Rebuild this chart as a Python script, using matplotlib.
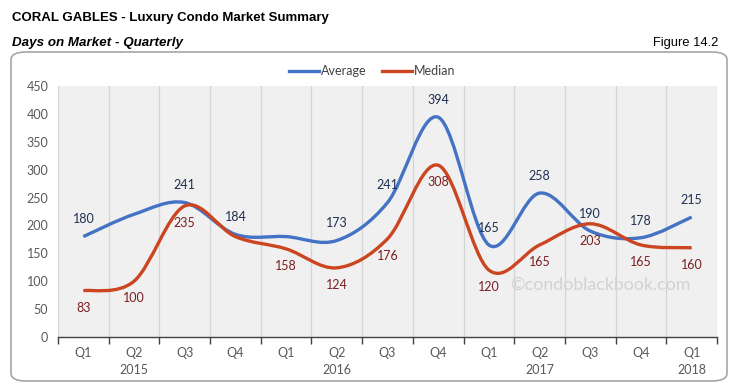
import numpy as np
import matplotlib
matplotlib.use("Agg")
import matplotlib.pyplot as plt
from matplotlib.path import Path
from matplotlib.patches import PathPatch, FancyBboxPatch
from matplotlib.lines import Line2D

# data
quarters = ["Q1", "Q2", "Q3", "Q4", "Q1", "Q2", "Q3", "Q4", "Q1", "Q2", "Q3", "Q4", "Q1"]
years = ["2015", "2016", "2017", "2018"]
year_pos = [1, 5, 9, 12]
average = [180, 220, 241, 184, 180, 173, 241, 394, 165, 258, 190, 178, 215]
median = [83, 100, 235, 180, 158, 124, 176, 308, 120, 165, 203, 165, 160]
avg_labeled = [True, False, True, True, False, True, True, True, True, True, True, True, True]
med_labeled = [True, True, True, False, True, True, True, True, True, True, True, True, True]

blue = "#4472C4"
red = "#CB4520"
font = "Lato"
fs = 9


def smooth_path(xs, ys):
    # Catmull-Rom style bezier, like Excel's smoothed line
    pts = np.column_stack([xs, ys]).astype(float)
    n = len(pts)
    verts = [pts[0]]
    codes = [Path.MOVETO]
    for i in range(n - 1):
        p0 = pts[max(i - 1, 0)]
        p1 = pts[i]
        p2 = pts[i + 1]
        p3 = pts[min(i + 2, n - 1)]
        c1 = p1 + (p2 - p0) / 6.0
        c2 = p2 - (p3 - p1) / 6.0
        verts += [c1, c2, p2]
        codes += [Path.CURVE4] * 3
    return Path(verts, codes)


fig = plt.figure(figsize=(7.39, 3.85), dpi=100)

# rounded frame
frame = FancyBboxPatch((11 / 739, 4 / 385), 716 / 739, 329 / 385,
                       boxstyle="round,pad=0,rounding_size=0.02",
                       transform=fig.transFigure, facecolor="white",
                       edgecolor="#A6A6A6", linewidth=1.2, zorder=-1)
fig.patches.append(frame)

fig.text(12 / 739, 1 - 18 / 385, "CORAL GABLES - Luxury Condo Market Summary",
         family="Liberation Sans", weight="bold", fontsize=9.5, va="center")
fig.text(12 / 739, 1 - 43 / 385, "Days on Market - Quarterly",
         family="Liberation Sans", weight="bold", style="italic", fontsize=9.6, va="center")
fig.text(718 / 739, 1 - 43 / 385, "Figure 14.2",
         family="Liberation Sans", fontsize=9.3, ha="right", va="center")

ax = fig.add_axes([58 / 739, 48 / 385, 659 / 739, 251 / 385], zorder=1)
ax.set_facecolor("#F0F0F0")
x = np.arange(len(quarters))
ax.set_xlim(-0.5, len(quarters) - 0.5)
ax.set_ylim(0, 450)

for b in np.arange(-0.5, len(quarters), 1.0):
    ax.axvline(b, color="#D4D4D4", linewidth=0.9, zorder=1)

ax.add_patch(PathPatch(smooth_path(x, average), facecolor="none", edgecolor=blue,
                       linewidth=2.4, capstyle="butt", zorder=3))
ax.add_patch(PathPatch(smooth_path(x, median), facecolor="none", edgecolor=red,
                       linewidth=2.4, capstyle="butt", zorder=3))

for xi, v, show in zip(x, average, avg_labeled):
    if show:
        ax.annotate(str(v), (xi, v), xytext=(0, 8), textcoords="offset points",
                    ha="center", va="bottom", fontsize=fs, family=font,
                    color="#203050", zorder=4)
for xi, v, show in zip(x, median, med_labeled):
    if show:
        ax.annotate(str(v), (xi, v), xytext=(0, -8), textcoords="offset points",
                    ha="center", va="top", fontsize=fs, family=font,
                    color="#7A1F1F", zorder=4)

ax.text(0.823, 0.207, "\u00a9condoblackbook.com", transform=ax.transAxes,
        ha="center", va="center", fontsize=12.8, family=font, color="#D2D2D2", zorder=2)

for s in ["top", "right", "left"]:
    ax.spines[s].set_visible(False)
ax.spines["bottom"].set_color("#404040")
ax.spines["bottom"].set_linewidth(1.0)

ax.set_yticks(range(0, 451, 50))
ax.tick_params(axis="y", length=0, pad=7, labelsize=fs, labelcolor="#595959")
for t in ax.get_yticklabels():
    t.set_family(font)

ax.set_xticks(np.arange(-0.5, len(quarters), 1.0))
ax.set_xticklabels([])
ax.tick_params(axis="x", length=5, color="#404040", width=1.0, direction="out")
for xi, q in zip(x, quarters):
    ax.text(xi, -29, q, ha="center", va="center", fontsize=fs, family=font,
            color="#595959", clip_on=False)
for xp, yr in zip(year_pos, years):
    ax.text(xp, -59, yr, ha="center", va="center", fontsize=fs, family=font,
            color="#595959", clip_on=False)

handles = [Line2D([], [], color=blue, linewidth=2.4),
           Line2D([], [], color=red, linewidth=2.4)]
fig.legend(handles, ["Average", "Median"], loc="center", bbox_to_anchor=(372 / 739, 1 - 71 / 385),
           ncol=2, frameon=False, prop={"family": font, "size": fs},
           handlelength=2.4, handletextpad=0.15, columnspacing=1.2, labelcolor="#404040")

fig.savefig("out.png", dpi=100)
